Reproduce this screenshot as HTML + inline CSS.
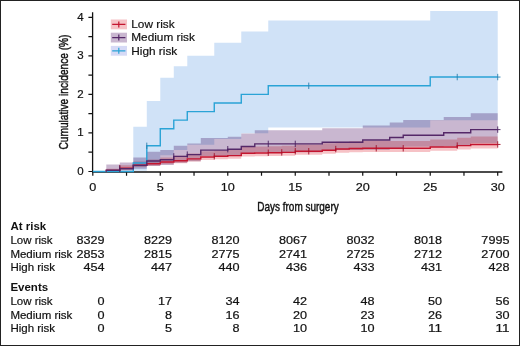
<!DOCTYPE html>
<html><head><meta charset="utf-8"><style>
html,body{margin:0;padding:0;background:#fff;}
body{width:520px;height:346px;overflow:hidden;position:relative;}
svg{position:absolute;left:0;top:0;}
.t{font-family:"Liberation Sans",sans-serif;font-size:11px;fill:#111;}
.l{font-family:"Liberation Sans",sans-serif;font-size:11.5px;fill:#111;stroke:#111;stroke-width:0.2px;}
.n{font-family:"Liberation Sans",sans-serif;font-size:11.5px;fill:#111;stroke:#111;stroke-width:0.2px;}
.b{font-family:"Liberation Sans",sans-serif;font-size:11.5px;font-weight:bold;fill:#111;}
.c{font-family:"Liberation Sans",sans-serif;font-size:13px;fill:#111;stroke:#111;stroke-width:0.45px;}
</style></head><body>
<svg width="520" height="346" viewBox="0 0 520 346">
<rect x="0" y="0" width="520" height="346" fill="#fff"/>
<path d="M133.29,126.78 L146.79,126.78 L146.79,100.98 L160.28,100.98 L160.28,77.82 L173.78,77.82 L173.78,66.26 L187.28,66.26 L187.28,55.85 L214.27,55.85 L214.27,42.75 L241.27,42.75 L241.27,31.59 L268.26,31.59 L268.26,20.54 L430.23,20.54 L430.23,10.90 L497.71,10.90 L497.71,120.23 L430.23,120.23 L430.23,127.42 L268.26,127.42 L268.26,133.35 L241.27,133.35 L241.27,139.12 L214.27,139.12 L214.27,144.70 L187.28,144.70 L187.28,150.05 L173.78,150.05 L173.78,155.14 L160.28,155.14 L160.28,164.25 L146.79,164.25 L146.79,170.65 L133.29,170.65Z" fill="rgb(208,226,247)" style="mix-blend-mode:multiply"/>
<path d="M106.30,164.50 L119.79,164.50 L119.79,162.54 L133.29,162.54 L133.29,157.60 L146.79,157.60 L146.79,151.79 L160.28,151.79 L160.28,150.07 L173.78,150.07 L173.78,145.82 L187.28,145.82 L187.28,143.57 L200.78,143.57 L200.78,137.98 L227.77,137.98 L227.77,136.85 L241.27,136.85 L241.27,133.50 L254.76,133.50 L254.76,130.37 L322.25,130.37 L322.25,128.26 L362.74,128.26 L362.74,125.61 L389.73,125.61 L389.73,122.62 L403.23,122.62 L403.23,120.02 L443.72,120.02 L443.72,117.05 L470.72,117.05 L470.72,113.30 L497.71,113.30 L497.71,143.32 L470.72,143.32 L470.72,146.06 L443.72,146.06 L443.72,146.83 L403.23,146.83 L403.23,147.98 L389.73,147.98 L389.73,149.72 L362.74,149.72 L362.74,149.91 L322.25,149.91 L322.25,152.22 L254.76,152.22 L254.76,153.96 L241.27,153.96 L241.27,155.50 L227.77,155.50 L227.77,156.08 L200.78,156.08 L200.78,161.34 L187.28,161.34 L187.28,162.66 L173.78,162.66 L173.78,165.08 L160.28,165.08 L160.28,166.00 L146.79,166.00 L146.79,168.86 L133.29,168.86 L133.29,170.77 L119.79,170.77 L119.79,171.31 L106.30,171.31Z" fill="rgb(201,183,208)" style="mix-blend-mode:multiply"/>
<path d="M106.30,168.73 L119.79,168.73 L119.79,165.35 L133.29,165.35 L133.29,161.45 L146.79,161.45 L146.79,159.52 L160.28,159.52 L160.28,157.38 L173.78,157.38 L173.78,155.76 L187.28,155.76 L187.28,153.54 L200.78,153.54 L200.78,151.25 L214.27,151.25 L214.27,150.42 L227.77,150.42 L227.77,149.58 L241.27,149.58 L241.27,146.84 L254.76,146.84 L254.76,146.56 L268.26,146.56 L268.26,146.19 L281.76,146.19 L281.76,145.74 L295.25,145.74 L295.25,144.42 L322.25,144.42 L322.25,143.16 L335.75,143.16 L335.75,141.85 L349.24,141.85 L349.24,141.27 L362.74,141.27 L362.74,140.95 L430.23,140.95 L430.23,139.43 L457.22,139.43 L457.22,137.83 L470.72,137.83 L470.72,136.50 L497.71,136.50 L497.71,148.41 L470.72,148.41 L470.72,149.48 L457.22,149.48 L457.22,150.76 L430.23,150.76 L430.23,151.96 L362.74,151.96 L362.74,152.21 L349.24,152.21 L349.24,152.67 L335.75,152.67 L335.75,153.70 L322.25,153.70 L322.25,154.68 L295.25,154.68 L295.25,155.70 L281.76,155.70 L281.76,156.05 L268.26,156.05 L268.26,156.33 L254.76,156.33 L254.76,156.54 L241.27,156.54 L241.27,158.64 L227.77,158.64 L227.77,159.26 L214.27,159.26 L214.27,159.88 L200.78,159.88 L200.78,161.57 L187.28,161.57 L187.28,163.18 L173.78,163.18 L173.78,164.33 L160.28,164.33 L160.28,165.81 L146.79,165.81 L146.79,167.10 L133.29,167.10 L133.29,169.49 L119.79,169.49 L119.79,171.15 L106.30,171.15Z" fill="rgb(246,194,198)" style="mix-blend-mode:multiply"/>
<path d="M92.6,12.3V172.6M92,172.0H502.4" stroke="#111" stroke-width="1.3" fill="none"/>
<path d="M88.4,171.50H92.6M88.4,152.22H92.6M88.4,132.95H92.6M88.4,113.68H92.6M88.4,94.40H92.6M88.4,75.12H92.6M88.4,55.85H92.6M88.4,36.58H92.6M88.4,17.30H92.6M92.80,172.0V175.8M126.54,172.0V175.8M160.28,172.0V175.8M194.03,172.0V175.8M227.77,172.0V175.8M261.51,172.0V175.8M295.25,172.0V175.8M329.00,172.0V175.8M362.74,172.0V175.8M396.48,172.0V175.8M430.23,172.0V175.8M463.97,172.0V175.8M497.71,172.0V175.8" stroke="#111" stroke-width="1.2"/>
<path d="M92.80,171.50H133.29V162.94H146.79V145.81H160.28V128.71H173.78V120.16H187.28V111.62H214.27V103.03H241.27V94.42H268.26V85.79H430.23V77.05H497.71" fill="none" stroke="#2aa3d6" stroke-width="1.4"/>
<path d="M146.79,142.61V149.01M308.75,82.59V88.99M457.22,73.85V80.25M497.71,73.85V80.25M497.71,77.05H500.51" stroke="#2a7fae" stroke-width="0.9"/>
<path d="M106.30,171.50H106.30V170.34H119.79V168.11H133.29V165.22H146.79V163.71H160.28V162.02H173.78V160.71H187.28V158.89H200.78V157.01H214.27V156.31H227.77V155.62H241.27V153.30H254.76V153.07H268.26V152.76H281.76V152.38H295.25V151.26H322.25V150.18H335.75V149.06H349.24V148.56H362.74V148.29H430.23V146.98H457.22V145.59H470.72V144.44H497.71" fill="none" stroke="#c4152f" stroke-width="1.4"/>
<path d="M119.79,164.91V171.31M214.27,153.11V159.51M268.26,149.56V155.96M281.76,149.18V155.58M295.25,148.06V154.46M308.75,148.06V154.46M335.75,145.86V152.26M376.24,145.09V151.49M403.23,145.09V151.49M457.22,142.39V148.79M497.71,141.24V147.64M497.71,144.44H500.51" stroke="#a01028" stroke-width="0.9"/>
<path d="M106.30,171.50H106.30V170.19H119.79V168.80H133.29V165.33H146.79V161.01H160.28V159.70H173.78V156.39H187.28V154.62H200.78V150.10H227.77V149.22H241.27V146.48H254.76V143.90H322.25V142.20H362.74V140.00H389.73V137.50H403.23V135.30H443.72V132.80H470.72V129.60H497.71" fill="none" stroke="#552868" stroke-width="1.4"/>
<path d="M119.79,165.60V172.00M173.78,153.19V159.59M187.28,151.42V157.82M227.77,146.02V152.42M268.26,140.70V147.10M295.25,140.70V147.10M497.71,126.40V132.80M497.71,129.60H500.51" stroke="#4a2060" stroke-width="0.9"/>
<text x="83.6" y="174.90" text-anchor="end" class="l">0</text>
<text x="83.6" y="136.35" text-anchor="end" class="l">1</text>
<text x="83.6" y="97.80" text-anchor="end" class="l">2</text>
<text x="83.6" y="59.25" text-anchor="end" class="l">3</text>
<text x="83.6" y="20.70" text-anchor="end" class="l">4</text>
<text x="92.80" y="190.8" text-anchor="middle" class="n" textLength="7.03" lengthAdjust="spacingAndGlyphs">0</text>
<text x="160.28" y="190.8" text-anchor="middle" class="n" textLength="7.03" lengthAdjust="spacingAndGlyphs">5</text>
<text x="227.77" y="190.8" text-anchor="middle" class="n" textLength="14.07" lengthAdjust="spacingAndGlyphs">10</text>
<text x="295.25" y="190.8" text-anchor="middle" class="n" textLength="14.07" lengthAdjust="spacingAndGlyphs">15</text>
<text x="362.74" y="190.8" text-anchor="middle" class="n" textLength="14.07" lengthAdjust="spacingAndGlyphs">20</text>
<text x="430.23" y="190.8" text-anchor="middle" class="n" textLength="14.07" lengthAdjust="spacingAndGlyphs">25</text>
<text x="497.71" y="190.8" text-anchor="middle" class="n" textLength="14.07" lengthAdjust="spacingAndGlyphs">30</text>
<rect x="110.8" y="19.50" width="16.2" height="9.8" fill="rgb(246,194,198)"/>
<path d="M112.2,24.40H125.4M118.8,21.40V27.40" stroke="#c4152f" stroke-width="1.2"/>
<text x="131.3" y="28.10" class="l" style="font-size:11.8px">Low risk</text>
<rect x="110.8" y="32.70" width="16.2" height="9.8" fill="rgb(201,183,208)"/>
<path d="M112.2,37.60H125.4M118.8,34.60V40.60" stroke="#552868" stroke-width="1.2"/>
<text x="131.3" y="41.30" class="l" style="font-size:11.8px">Medium risk</text>
<rect x="110.8" y="45.90" width="16.2" height="9.8" fill="rgb(214,218,246)"/>
<path d="M112.2,50.80H125.4M118.8,47.80V53.80" stroke="#2aa3d6" stroke-width="1.2"/>
<text x="131.3" y="54.50" class="l" style="font-size:11.8px">High risk</text>
<text class="c" x="298" y="211.3" style="font-size:13.5px" text-anchor="middle" textLength="81.4" lengthAdjust="spacingAndGlyphs">Days from surgery</text>
<text class="c" transform="translate(67.5,92.0) rotate(-90)" x="0" y="0" text-anchor="middle" textLength="115" lengthAdjust="spacingAndGlyphs">Cumulative incidence (%)</text>
<text x="10.4" y="229.7" class="b">At risk</text>
<text x="10.4" y="243.6" class="l">Low risk</text>
<text x="104.60" y="243.6" text-anchor="end" class="n" textLength="28.13" lengthAdjust="spacingAndGlyphs">8329</text>
<text x="172.09" y="243.6" text-anchor="end" class="n" textLength="28.13" lengthAdjust="spacingAndGlyphs">8229</text>
<text x="239.57" y="243.6" text-anchor="end" class="n" textLength="28.13" lengthAdjust="spacingAndGlyphs">8120</text>
<text x="307.06" y="243.6" text-anchor="end" class="n" textLength="28.13" lengthAdjust="spacingAndGlyphs">8067</text>
<text x="374.54" y="243.6" text-anchor="end" class="n" textLength="28.13" lengthAdjust="spacingAndGlyphs">8032</text>
<text x="442.03" y="243.6" text-anchor="end" class="n" textLength="28.13" lengthAdjust="spacingAndGlyphs">8018</text>
<text x="509.51" y="243.6" text-anchor="end" class="n" textLength="28.13" lengthAdjust="spacingAndGlyphs">7995</text>
<text x="10.4" y="257.5" class="l">Medium risk</text>
<text x="104.60" y="257.5" text-anchor="end" class="n" textLength="28.13" lengthAdjust="spacingAndGlyphs">2853</text>
<text x="172.09" y="257.5" text-anchor="end" class="n" textLength="28.13" lengthAdjust="spacingAndGlyphs">2815</text>
<text x="239.57" y="257.5" text-anchor="end" class="n" textLength="28.13" lengthAdjust="spacingAndGlyphs">2775</text>
<text x="307.06" y="257.5" text-anchor="end" class="n" textLength="28.13" lengthAdjust="spacingAndGlyphs">2741</text>
<text x="374.54" y="257.5" text-anchor="end" class="n" textLength="28.13" lengthAdjust="spacingAndGlyphs">2725</text>
<text x="442.03" y="257.5" text-anchor="end" class="n" textLength="28.13" lengthAdjust="spacingAndGlyphs">2712</text>
<text x="509.51" y="257.5" text-anchor="end" class="n" textLength="28.13" lengthAdjust="spacingAndGlyphs">2700</text>
<text x="10.4" y="271.0" class="l">High risk</text>
<text x="104.60" y="271.0" text-anchor="end" class="n" textLength="21.10" lengthAdjust="spacingAndGlyphs">454</text>
<text x="172.09" y="271.0" text-anchor="end" class="n" textLength="21.10" lengthAdjust="spacingAndGlyphs">447</text>
<text x="239.57" y="271.0" text-anchor="end" class="n" textLength="21.10" lengthAdjust="spacingAndGlyphs">440</text>
<text x="307.06" y="271.0" text-anchor="end" class="n" textLength="21.10" lengthAdjust="spacingAndGlyphs">436</text>
<text x="374.54" y="271.0" text-anchor="end" class="n" textLength="21.10" lengthAdjust="spacingAndGlyphs">433</text>
<text x="442.03" y="271.0" text-anchor="end" class="n" textLength="21.10" lengthAdjust="spacingAndGlyphs">431</text>
<text x="509.51" y="271.0" text-anchor="end" class="n" textLength="21.10" lengthAdjust="spacingAndGlyphs">428</text>
<text x="10.4" y="291.0" class="b">Events</text>
<text x="10.4" y="305.0" class="l">Low risk</text>
<text x="104.60" y="305.0" text-anchor="end" class="n" textLength="7.03" lengthAdjust="spacingAndGlyphs">0</text>
<text x="172.09" y="305.0" text-anchor="end" class="n" textLength="14.07" lengthAdjust="spacingAndGlyphs">17</text>
<text x="239.57" y="305.0" text-anchor="end" class="n" textLength="14.07" lengthAdjust="spacingAndGlyphs">34</text>
<text x="307.06" y="305.0" text-anchor="end" class="n" textLength="14.07" lengthAdjust="spacingAndGlyphs">42</text>
<text x="374.54" y="305.0" text-anchor="end" class="n" textLength="14.07" lengthAdjust="spacingAndGlyphs">48</text>
<text x="442.03" y="305.0" text-anchor="end" class="n" textLength="14.07" lengthAdjust="spacingAndGlyphs">50</text>
<text x="509.51" y="305.0" text-anchor="end" class="n" textLength="14.07" lengthAdjust="spacingAndGlyphs">56</text>
<text x="10.4" y="318.5" class="l">Medium risk</text>
<text x="104.60" y="318.5" text-anchor="end" class="n" textLength="7.03" lengthAdjust="spacingAndGlyphs">0</text>
<text x="172.09" y="318.5" text-anchor="end" class="n" textLength="7.03" lengthAdjust="spacingAndGlyphs">8</text>
<text x="239.57" y="318.5" text-anchor="end" class="n" textLength="14.07" lengthAdjust="spacingAndGlyphs">16</text>
<text x="307.06" y="318.5" text-anchor="end" class="n" textLength="14.07" lengthAdjust="spacingAndGlyphs">20</text>
<text x="374.54" y="318.5" text-anchor="end" class="n" textLength="14.07" lengthAdjust="spacingAndGlyphs">23</text>
<text x="442.03" y="318.5" text-anchor="end" class="n" textLength="14.07" lengthAdjust="spacingAndGlyphs">26</text>
<text x="509.51" y="318.5" text-anchor="end" class="n" textLength="14.07" lengthAdjust="spacingAndGlyphs">30</text>
<text x="10.4" y="332.0" class="l">High risk</text>
<text x="104.60" y="332.0" text-anchor="end" class="n" textLength="7.03" lengthAdjust="spacingAndGlyphs">0</text>
<text x="172.09" y="332.0" text-anchor="end" class="n" textLength="7.03" lengthAdjust="spacingAndGlyphs">5</text>
<text x="239.57" y="332.0" text-anchor="end" class="n" textLength="7.03" lengthAdjust="spacingAndGlyphs">8</text>
<text x="307.06" y="332.0" text-anchor="end" class="n" textLength="14.07" lengthAdjust="spacingAndGlyphs">10</text>
<text x="374.54" y="332.0" text-anchor="end" class="n" textLength="14.07" lengthAdjust="spacingAndGlyphs">10</text>
<text x="442.03" y="332.0" text-anchor="end" class="n" textLength="14.07" lengthAdjust="spacingAndGlyphs">11</text>
<text x="509.51" y="332.0" text-anchor="end" class="n" textLength="14.07" lengthAdjust="spacingAndGlyphs">11</text>
<rect x="0.5" y="0.5" width="519" height="345" fill="none" stroke="#222" stroke-width="1"/>
</svg>
</body></html>
